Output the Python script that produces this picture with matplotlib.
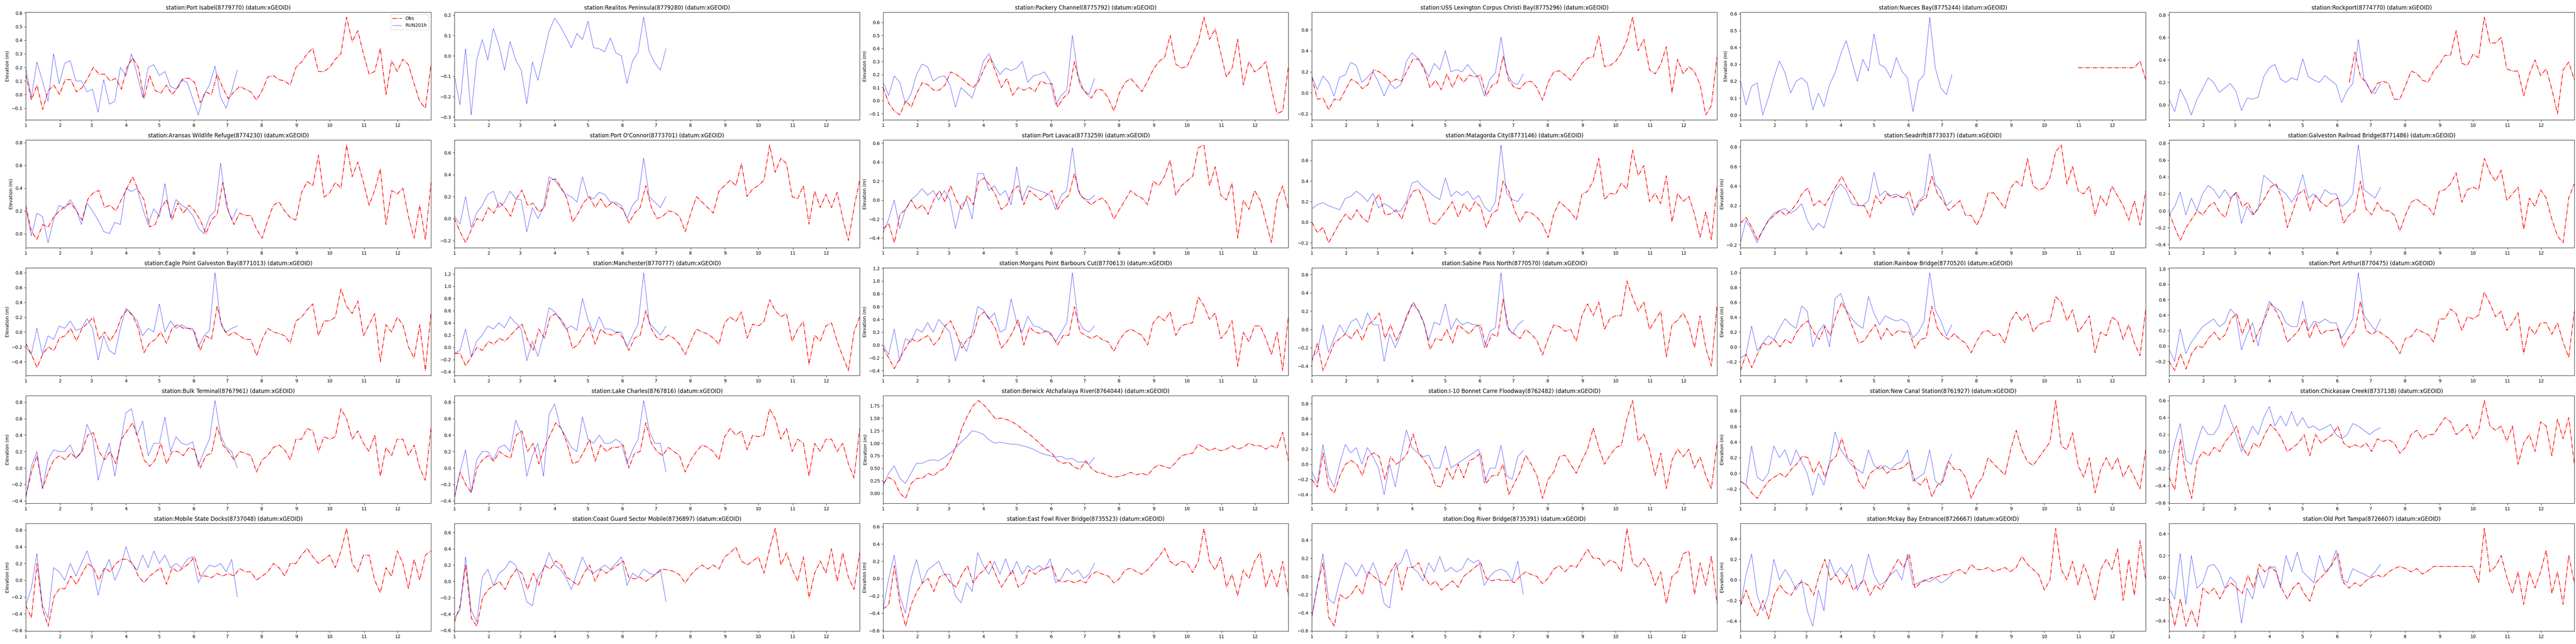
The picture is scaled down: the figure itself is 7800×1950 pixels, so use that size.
#!/usr/bin/env python3
"""
Water level comparison grid: observed (Obs) vs model run (RUN201h)
for 30 NOAA stations along the Gulf coast, one panel per station.
Values were read off the reference figure (Obs roughly every 5 days over
the year, RUN201h every 5 days from Jan 1 to mid July).
"""
import numpy as np
import matplotlib
matplotlib.use('Agg')
import matplotlib.pyplot as plt

NAN = np.nan

# ---- station titles -------------------------------------------------------
titles = [
    'station:Port Isabel(8779770) (datum:xGEOID)',
    'station:Realitos Peninsula(8779280) (datum:xGEOID)',
    'station:Packery Channel(8775792) (datum:xGEOID)',
    'station:USS Lexington Corpus Christi Bay(8775296) (datum:xGEOID)',
    'station:Nueces Bay(8775244) (datum:xGEOID)',
    'station:Rockport(8774770) (datum:xGEOID)',
    'station:Aransas Wildlife Refuge(8774230) (datum:xGEOID)',
    "station:Port O'Connor(8773701) (datum:xGEOID)",
    'station:Port Lavaca(8773259) (datum:xGEOID)',
    'station:Matagorda City(8773146) (datum:xGEOID)',
    'station:Seadrift(8773037) (datum:xGEOID)',
    'station:Galveston Railroad Bridge(8771486) (datum:xGEOID)',
    'station:Eagle Point Galveston Bay(8771013) (datum:xGEOID)',
    'station:Manchester(8770777) (datum:xGEOID)',
    'station:Morgans Point Barbours Cut(8770613) (datum:xGEOID)',
    'station:Sabine Pass North(8770570) (datum:xGEOID)',
    'station:Rainbow Bridge(8770520) (datum:xGEOID)',
    'station:Port Arthur(8770475) (datum:xGEOID)',
    'station:Bulk Terminal(8767961) (datum:xGEOID)',
    'station:Lake Charles(8767816) (datum:xGEOID)',
    'station:Berwick Atchafalaya River(8764044) (datum:xGEOID)',
    'station:I-10 Bonnet Carre Floodway(8762482) (datum:xGEOID)',
    'station:New Canal Station(8761927) (datum:xGEOID)',
    'station:Chickasaw Creek(8737138) (datum:xGEOID)',
    'station:Mobile State Docks(8737048) (datum:xGEOID)',
    'station:Coast Guard Sector Mobile(8736897) (datum:xGEOID)',
    'station:East Fowl River Bridge(8735523) (datum:xGEOID)',
    'station:Dog River Bridge(8735391) (datum:xGEOID)',
    'station:Mckay Bay Entrance(8726667) (datum:xGEOID)',
    'station:Old Port Tampa(8726607) (datum:xGEOID)',
]

# ---- month ticks (day of year of the 1st of each month) -------------------
month_starts = [0, 31, 59, 90, 120, 151, 181, 212, 243, 273, 304, 334]
month_labels = ['1', '2', '3', '4', '5', '6', '7', '8', '9', '10', '11', '12']

# ---- observed water level (m), Jan 1 .. Dec 31 ----------------------------
obs_port_isabel = [0.15, -0.04, 0.07, -0.11, 0.03, 0.07, 0.0, 0.11, 0.11, 0.02,
                   0.05, 0.12, 0.2, 0.15, 0.15, 0.1, 0.12, 0.04, 0.2, 0.27,
                   0.2, -0.03, 0.14, 0.03, 0.01, 0.07, 0.0, 0.05, 0.12, 0.12,
                   0.09, -0.06, 0.02, 0.0, 0.15, 0.05, -0.03, 0.02, 0.06, 0.04,
                   0.02, -0.04, 0.03, 0.13, 0.14, 0.11, 0.1, 0.07, 0.2, 0.24,
                   0.3, 0.34, 0.17, 0.17, 0.2, 0.26, 0.3, 0.57, 0.39, 0.47,
                   0.3, 0.15, 0.17, 0.34, 0.0, 0.25, 0.17, 0.26, 0.22, 0.08,
                   -0.05, -0.1, 0.22]
obs_realitos = []
obs_packery = [0.1, -0.02, -0.08, -0.11, 0.0, -0.05, 0.06, 0.14, 0.12, 0.08,
               0.08, 0.12, 0.22, 0.2, 0.17, 0.13, 0.1, 0.15, 0.25, 0.33,
               0.22, 0.1, 0.17, 0.04, 0.1, 0.08, 0.1, 0.07, 0.15, 0.13,
               0.13, -0.05, 0.02, 0.06, 0.3, 0.12, 0.06, 0.02, 0.09, 0.08,
               0.02, -0.08, 0.06, 0.14, 0.17, 0.12, 0.07, 0.15, 0.24, 0.3,
               0.33, 0.5, 0.28, 0.25, 0.26, 0.36, 0.45, 0.64, 0.47, 0.55,
               0.36, 0.18, 0.25, 0.47, 0.12, 0.3, 0.22, 0.25, 0.3, 0.09,
               -0.1, -0.08, 0.26]
obs_uss_lexington = [0.15, -0.06, -0.05, -0.16, -0.06, -0.07, 0.03, 0.13, 0.1, 0.04,
                     0.08, 0.22, 0.2, 0.16, 0.1, 0.13, 0.11, 0.22, 0.32, 0.32,
                     0.22, 0.05, 0.12, 0.03, 0.18, 0.05, 0.17, 0.1, 0.17, 0.15,
                     0.17, -0.03, 0.07, 0.1, 0.35, 0.12, 0.05, 0.04, 0.1, 0.11,
                     0.05, -0.07, 0.1, 0.2, 0.21, 0.17, 0.12, 0.2, 0.28, 0.33,
                     0.34, 0.54, 0.25, 0.26, 0.3, 0.38, 0.5, 0.72, 0.4, 0.51,
                     0.22, 0.18, 0.27, 0.44, 0.0, 0.32, 0.18, 0.25, 0.2, 0.08,
                     -0.21, -0.12, 0.34]
obs_nueces = [NAN] * 60 + [0.28, 0.28, 0.28, 0.28, 0.28, 0.28, 0.28, 0.28, 0.28,
                           0.28, 0.28, 0.32, 0.21]
obs_rockport = [NAN] * 32 + [0.2, 0.47, 0.25, 0.2, 0.1, 0.19, 0.21, 0.19, 0.05, 0.05,
                             0.17, 0.3, 0.28, 0.22, 0.2, 0.3, 0.36, 0.44, 0.44, 0.66,
                             0.37, 0.35, 0.45, 0.42, 0.78, 0.55, 0.55, 0.6, 0.32, 0.3,
                             0.3, 0.08, 0.27, 0.4, 0.26, 0.32, 0.14, -0.08, 0.31, 0.38,
                             0.22]
obs_aransas = [0.25, 0.02, -0.05, 0.08, 0.06, 0.15, 0.2,
               0.24, 0.27, 0.2, 0.12, 0.3,
               0.36, 0.38, 0.23, 0.25, 0.2, 0.3,
               0.4, 0.5, 0.38, 0.3, 0.06, 0.08,
               0.22, 0.3, 0.12, 0.27, 0.18, 0.25, 0.2,
               0.12, 0.0, 0.12, 0.17, 0.45, 0.2,
               0.08, 0.18, 0.16, 0.16, 0.04, -0.04,
               0.12, 0.25, 0.28, 0.2, 0.14, 0.12,
               0.36, 0.46, 0.42, 0.69, 0.32, 0.36,
               0.45, 0.4, 0.78, 0.5, 0.63, 0.45,
               0.25, 0.38, 0.57, 0.08, 0.38, 0.35,
               0.4, 0.15, -0.04, 0.25, -0.05, 0.45]
obs_port_oconnor = [0.0, -0.12, -0.22, -0.1, 0.0, -0.02, 0.1,
                    0.05, 0.15, 0.1, 0.02, 0.18,
                    0.26, 0.12, 0.14, 0.06, 0.1, 0.35,
                    0.36, 0.28, 0.18, -0.03, 0.05, 0.15,
                    0.2, 0.1, 0.18, 0.1, 0.15, 0.12, 0.08,
                    -0.04, 0.05, 0.1, 0.3, 0.1, 0.0,
                    0.02, 0.07, 0.06, 0.02, -0.12, 0.05,
                    0.2, 0.15, 0.1, 0.05, 0.25, 0.3,
                    0.35, 0.3, 0.5, 0.2, 0.27, 0.3,
                    0.35, 0.67, 0.42, 0.55, 0.5, 0.2,
                    0.18, 0.3, -0.05, 0.25, 0.1, 0.22,
                    0.1, 0.24, 0.0, -0.2, 0.1, 0.35]
obs_port_lavaca = [-0.3, -0.25, -0.45, -0.15, -0.1, 0.0, -0.1,
                   -0.05, -0.15, 0.0, 0.1, -0.02,
                   0.15, 0.0, -0.1, 0.05, -0.05, 0.2,
                   0.23, 0.15, 0.05, -0.1, -0.05, 0.1,
                   0.15, -0.05, 0.1, 0.05, 0.0, 0.05, 0.1,
                   -0.1, 0.0, 0.05, 0.28, 0.05, 0.0,
                   -0.05, 0.0, 0.02, -0.05, -0.2, -0.1,
                   0.0, 0.1, 0.05, 0.02, -0.05, 0.2,
                   0.15, 0.25, 0.42, 0.05, 0.15, 0.2,
                   0.25, 0.55, 0.58, 0.15, 0.35, 0.05,
                   0.0, 0.18, -0.4, 0.0, -0.1, 0.1,
                   0.0, -0.22, -0.45, 0.0, 0.15, -0.1]
obs_matagorda = [0.0, -0.1, -0.05, -0.2, -0.1, 0.0, 0.08,
                 0.02, 0.12, 0.04, 0.0, 0.2,
                 0.27, 0.07, 0.08, 0.12, 0.03, 0.2,
                 0.3, 0.32, 0.2, 0.0, -0.02, 0.05,
                 0.12, 0.2, 0.05, 0.18, 0.1, 0.2, 0.15,
                 -0.05, 0.08, 0.12, 0.4, 0.3, 0.12,
                 0.0, 0.1, 0.09, 0.05, -0.02, -0.15,
                 0.08, 0.2, 0.15, 0.1, 0.02, 0.27,
                 0.3, 0.4, 0.62, 0.22, 0.28, 0.27,
                 0.38, 0.32, 0.7, 0.45, 0.55, 0.2,
                 0.28, 0.18, 0.45, 0.0, 0.28, 0.2,
                 0.25, 0.08, -0.15, 0.1, -0.17, 0.35]
obs_seadrift = [0.02, 0.08, -0.02, -0.15, -0.05, 0.05, 0.1,
                0.15, 0.1, 0.15, 0.22, 0.33,
                0.38, 0.2, 0.25, 0.2, 0.3, 0.4,
                0.5, 0.38, 0.3, 0.2, 0.2, 0.08,
                0.3, 0.22, 0.32, 0.28, 0.3, 0.28, 0.35,
                0.15, 0.25, 0.28, 0.5, 0.32, 0.25,
                0.15, 0.2, 0.25, 0.1, 0.1, 0.0,
                0.12, 0.33, 0.33, 0.25, 0.17, 0.38,
                0.45, 0.4, 0.68, 0.4, 0.36, 0.38,
                0.48, 0.75, 0.82, 0.42, 0.6, 0.35,
                0.32, 0.4, 0.1, 0.3, 0.2, 0.4,
                0.3, 0.2, 0.05, 0.25, 0.0, 0.35]
obs_galveston_rr = [-0.02, -0.2, -0.35, -0.2, -0.1, 0.0, -0.05,
                    0.05, 0.1, -0.02, -0.08, 0.15,
                    0.22, 0.05, 0.1, -0.05, 0.05, 0.15,
                    0.28, 0.32, 0.15, -0.2, 0.0, 0.2,
                    0.25, 0.0, 0.18, 0.1, 0.05, 0.12, 0.15,
                    -0.15, -0.05, 0.0, 0.35, 0.02, -0.05,
                    0.1, 0.0, 0.0, -0.05, -0.24, -0.05,
                    0.1, 0.14, 0.08, 0.05, -0.05, 0.23,
                    0.25, 0.32, 0.45, 0.1, 0.25, 0.28,
                    0.25, 0.62, 0.45, 0.35, 0.48, 0.12,
                    0.2, 0.28, -0.22, 0.15, 0.05, 0.25,
                    0.15, -0.1, -0.3, -0.38, 0.15, 0.32]
obs_eagle_point = [-0.15, -0.3, -0.48, -0.3, -0.2, -0.25, -0.08,
                   -0.05, 0.05, -0.12, 0.05, 0.12,
                   0.2, -0.1, 0.0, -0.12, 0.0, 0.2,
                   0.3, 0.22, 0.05, -0.28, -0.15, -0.1,
                   0.0, -0.15, 0.05, 0.1, 0.05, 0.05, 0.0,
                   -0.25, -0.05, -0.1, 0.35, 0.05, -0.05,
                   0.0, -0.05, -0.1, -0.1, -0.32, -0.1,
                   0.05, 0.0, -0.02, -0.05, -0.15, 0.15,
                   0.2, 0.3, 0.38, -0.05, 0.15, 0.15,
                   0.2, 0.58, 0.35, 0.25, 0.42, -0.05,
                   0.1, 0.25, -0.4, 0.1, 0.0, 0.2,
                   0.1, -0.2, -0.35, 0.1, -0.52, 0.25]
obs_manchester = [-0.1, -0.1, -0.3, -0.15, 0.0, -0.05, 0.1,
                  0.05, 0.15, 0.1, 0.2, 0.3,
                  0.38, 0.12, -0.05, 0.3, 0.15, 0.5,
                  0.55, 0.45, 0.3, -0.02, 0.05, 0.2,
                  0.35, 0.05, 0.3, 0.22, 0.2, 0.25, 0.15,
                  -0.05, 0.15, 0.2, 0.6, 0.3, 0.15,
                  0.12, 0.2, 0.15, 0.05, -0.12, 0.1,
                  0.3, 0.25, 0.22, 0.15, 0.05, 0.4,
                  0.5, 0.42, 0.58, 0.15, 0.38, 0.35,
                  0.42, 0.78, 0.6, 0.5, 0.55, 0.1,
                  0.3, 0.42, -0.28, 0.2, 0.1, 0.35,
                  0.4, 0.1, -0.15, -0.38, 0.25, 0.5]
obs_morgans_point = [-0.05, -0.2, -0.37, -0.2, -0.05, 0.1, 0.05,
                     0.1, 0.15, 0.0, 0.1, 0.3,
                     0.38, 0.18, -0.05, 0.1, 0.15, 0.45,
                     0.52, 0.4, 0.25, -0.05, 0.05, 0.2,
                     0.4, 0.0, 0.28, 0.2, 0.18, 0.22, 0.15,
                     0.0, 0.15, 0.15, 0.6, 0.2, 0.15,
                     0.1, 0.15, 0.08, 0.05, -0.1, 0.08,
                     0.2, 0.25, 0.2, 0.15, 0.0, 0.35,
                     0.45, 0.38, 0.52, 0.15, 0.3, 0.33,
                     0.35, 0.75, 0.62, 0.4, 0.5, 0.1,
                     0.2, 0.38, -0.33, 0.2, 0.05, 0.3,
                     0.3, 0.1, -0.15, 0.2, -0.4, 0.45]
obs_sabine_pass = [-0.35, -0.15, -0.45, -0.3, -0.15, -0.1, -0.05,
                   -0.1, 0.0, -0.12, 0.05, 0.1,
                   0.18, -0.1, 0.05, -0.12, 0.0, 0.15,
                   0.3, 0.2, 0.05, -0.22, -0.1, -0.12,
                   0.0, -0.15, 0.05, 0.0, -0.05, 0.03, 0.05,
                   -0.2, -0.05, -0.08, 0.33, 0.0, -0.05,
                   -0.1, 0.0, -0.05, -0.12, -0.28, -0.1,
                   0.05, 0.03, -0.02, 0.0, -0.13, 0.15,
                   0.28, 0.15, 0.3, 0.0, 0.12, 0.15,
                   0.15, 0.53, 0.35, 0.2, 0.3, 0.0,
                   0.1, 0.2, -0.3, 0.05, 0.1, 0.18,
                   0.05, -0.2, 0.15, -0.2, -0.4, 0.25]
obs_rainbow = [-0.32, -0.1, -0.28, -0.1, 0.05, 0.02, 0.1,
               0.0, 0.1, 0.05, 0.2, 0.3,
               0.35, 0.2, 0.1, 0.28, 0.15, 0.42,
               0.6, 0.45, 0.25, 0.05, 0.08, 0.2,
               0.3, 0.1, 0.25, 0.15, 0.22, 0.2, 0.2,
               -0.02, 0.1, 0.12, 0.55, 0.25, 0.15,
               0.1, 0.18, 0.1, 0.05, -0.08, 0.08,
               0.2, 0.22, 0.15, 0.18, 0.05, 0.35,
               0.47, 0.35, 0.45, 0.2, 0.3, 0.33,
               0.35, 0.68, 0.6, 0.35, 0.5, 0.2,
               0.3, 0.42, -0.08, 0.2, 0.15, 0.4,
               0.35, 0.1, 0.3, 0.05, -0.12, 0.5]
obs_port_arthur = [-0.2, -0.32, -0.1, -0.3, -0.1, 0.0, -0.02,
                   0.1, 0.18, 0.08, 0.15, 0.35,
                   0.42, 0.15, 0.35, 0.05, 0.2, 0.35,
                   0.55, 0.45, 0.3, 0.05, 0.12, 0.2,
                   0.35, 0.1, 0.3, 0.15, 0.2, 0.2, 0.22,
                   -0.02, 0.12, 0.2, 0.58, 0.2, 0.15,
                   0.2, 0.15, 0.1, 0.02, -0.1, 0.1,
                   0.12, 0.22, 0.18, 0.15, 0.05, 0.35,
                   0.35, 0.48, 0.42, 0.2, 0.38, 0.35,
                   0.4, 0.7, 0.55, 0.38, 0.45, 0.2,
                   0.3, 0.43, -0.1, 0.25, 0.15, 0.3,
                   0.3, 0.15, 0.3, 0.05, -0.15, 0.45]
obs_bulk_terminal = [-0.35, -0.05, 0.15, -0.25, -0.05, 0.1, 0.15,
                     0.1, 0.18, 0.12, 0.2, 0.4,
                     0.43, 0.2, 0.1, 0.2, 0.05, 0.35,
                     0.45, 0.55, 0.35, 0.1, 0.02, 0.1,
                     0.3, 0.05, 0.2, 0.2, 0.15, 0.25, 0.22,
                     0.0, 0.15, 0.18, 0.5, 0.28, 0.2,
                     0.1, 0.2, 0.18, 0.15, -0.05, 0.1,
                     0.15, 0.25, 0.28, 0.22, 0.1, 0.35,
                     0.35, 0.48, 0.45, 0.2, 0.38, 0.35,
                     0.38, 0.72, 0.6, 0.35, 0.45, 0.3,
                     0.2, 0.4, -0.1, 0.25, 0.15, 0.35,
                     0.35, 0.15, 0.28, 0.0, -0.15, 0.48]
obs_lake_charles = [-0.35, -0.05, -0.2, -0.3, 0.0, 0.1, 0.15,
                    0.08, 0.2, 0.15, 0.12, 0.4,
                    0.45, 0.2, 0.3, 0.05, 0.25, 0.4,
                    0.55, 0.48, 0.3, 0.05, 0.08, 0.2,
                    0.35, 0.08, 0.28, 0.2, 0.25, 0.25, 0.28,
                    0.0, 0.18, 0.2, 0.55, 0.3, 0.2,
                    0.15, 0.25, 0.2, 0.15, -0.05, 0.1,
                    0.2, 0.28, 0.25, 0.2, 0.1, 0.38,
                    0.48, 0.4, 0.45, 0.22, 0.4, 0.38,
                    0.4, 0.72, 0.6, 0.35, 0.48, 0.2,
                    0.35, 0.3, -0.1, 0.3, 0.2, 0.35,
                    0.35, 0.2, 0.3, 0.05, -0.12, 0.48]
obs_berwick = [0.2, 0.32, 0.25, 0.0, -0.1, 0.2, 0.3,
               0.3, 0.4, 0.35, 0.45, 0.5,
               0.68, 0.95, 1.3, 1.55, 1.75, 1.85,
               1.75, 1.62, 1.48, 1.5, 1.47, 1.42,
               1.35, 1.25, 1.18, 1.08, 0.98, 0.88, 0.8,
               0.65, 0.6, 0.62, 0.52, 0.48, 0.65,
               0.5, 0.42, 0.4, 0.35, 0.32, 0.34,
               0.37, 0.42, 0.37, 0.4, 0.36, 0.5,
               0.57, 0.53, 0.5, 0.62, 0.75, 0.78,
               0.8, 0.98, 0.92, 0.85, 0.9, 0.85,
               0.88, 0.95, 0.88, 0.92, 1.0, 0.95,
               0.95, 0.88, 0.95, 0.9, 1.22, 0.65]
obs_bonnet_carre = [-0.2, -0.3, 0.15, -0.3, -0.38, -0.15, 0.0,
                    0.05, 0.0, -0.15, 0.1, 0.15,
                    0.1, -0.2, 0.1, 0.0, 0.05, 0.15,
                    0.4, 0.15, 0.05, -0.05, -0.28, -0.3,
                    -0.05, -0.2, 0.0, -0.18, 0.05, 0.08, 0.15,
                    -0.25, -0.15, -0.15, 0.0, -0.4, -0.25,
                    -0.1, 0.12, 0.0, -0.15, -0.45, -0.2,
                    -0.1, 0.1, 0.12, 0.0, -0.12, 0.05,
                    0.2, 0.48, 0.22, 0.0, 0.12, 0.22,
                    0.25, 0.6, 0.84, 0.3, 0.4, 0.2,
                    -0.15, 0.15, -0.32, 0.05, 0.2, 0.1,
                    0.2, -0.05, 0.1, -0.15, -0.32, 0.28]
obs_new_canal = [-0.1, -0.15, -0.25, -0.32, -0.2, -0.1, -0.05,
                 0.0, -0.05, 0.05, 0.12, 0.22,
                 0.2, 0.0, 0.15, -0.05, 0.15, 0.22,
                 0.45, 0.2, 0.15, -0.1, -0.2, 0.0,
                 0.05, 0.1, 0.0, 0.05, 0.05, 0.08, 0.15,
                 -0.1, -0.15, -0.05, -0.3, -0.15, -0.1,
                 0.15, 0.05, 0.05, -0.05, -0.32, -0.15,
                 -0.05, 0.2, 0.12, 0.05, -0.02, 0.3,
                 0.55, 0.3, 0.15, 0.1, 0.2, 0.3,
                 0.4, 0.93, 0.35, 0.3, 0.52, 0.1,
                 -0.05, 0.2, -0.25, 0.05, 0.2, 0.05,
                 0.2, -0.05, 0.1, -0.05, -0.2, 0.3]
obs_chickasaw = [-0.3, -0.45, 0.15, -0.3, -0.55, -0.1, 0.0,
                 -0.05, 0.05, 0.0, 0.12, 0.2,
                 0.3, 0.05, -0.05, 0.1, 0.05, 0.2,
                 0.32, 0.25, 0.15, 0.0, 0.05, 0.1,
                 0.2, -0.05, 0.2, 0.1, 0.15, 0.2, 0.3,
                 0.1, 0.05, 0.08, 0.05, 0.1, 0.0,
                 0.15, 0.12, 0.14, 0.1, -0.02, 0.05,
                 0.2, 0.25, 0.15, 0.2, 0.2, 0.3,
                 0.4, 0.35, 0.2, 0.25, 0.32, 0.15,
                 0.25, 0.6, 0.3, 0.25, 0.3, 0.12,
                 0.3, -0.15, 0.1, 0.2, 0.0, 0.35,
                 0.3, -0.05, 0.38, 0.15, 0.4, -0.15]
obs_mobile_docks = [-0.3, -0.45, 0.2, -0.35, -0.55, -0.2, -0.1,
                    -0.1, 0.05, -0.05, 0.08, 0.2,
                    0.15, 0.0, 0.15, 0.1, 0.2, 0.25,
                    0.25, 0.2, 0.05, -0.03, 0.05, 0.1,
                    0.15, -0.05, 0.15, 0.1, 0.15, 0.2, 0.28,
                    0.05, 0.05, 0.03, 0.08, 0.05, 0.08,
                    0.05, 0.14, 0.1, 0.1, 0.0, 0.05,
                    0.1, 0.2, 0.15, 0.05, 0.2, 0.2,
                    0.3, 0.38, 0.28, 0.2, 0.25, 0.3,
                    0.15, 0.35, 0.62, 0.2, 0.1, 0.3,
                    0.3, 0.0, -0.15, 0.15, 0.05, 0.35,
                    0.2, -0.1, 0.25, 0.0, 0.3, 0.35]
obs_coast_guard = [-0.5, -0.3, 0.2, -0.45, -0.55, -0.2, -0.1,
                   -0.05, 0.0, -0.1, 0.05, 0.15,
                   0.1, -0.1, 0.1, -0.05, 0.2, 0.15,
                   0.25, 0.2, 0.05, 0.0, -0.05, 0.1,
                   0.2, 0.0, 0.15, 0.1, 0.15, 0.2, 0.25,
                   0.05, 0.03, 0.05, 0.0, 0.05, 0.1,
                   0.15, 0.14, 0.12, 0.08, -0.02, 0.08,
                   0.15, 0.2, 0.15, 0.2, 0.15, 0.3,
                   0.35, 0.42, 0.25, 0.2, 0.25, 0.3,
                   0.1, 0.4, 0.65, 0.2, 0.35, 0.15,
                   0.0, 0.3, -0.2, 0.1, 0.25, 0.1,
                   0.4, 0.0, 0.35, 0.05, -0.1, 0.35]
obs_east_fowl = [-0.35, -0.3, 0.15, -0.3, -0.55, -0.3, -0.15,
                 -0.05, 0.0, -0.15, 0.02, 0.05,
                 -0.05, -0.1, 0.05, 0.15, -0.05, 0.05,
                 0.1, 0.2, 0.05, -0.1, 0.0, 0.1,
                 -0.1, -0.05, 0.1, 0.05, 0.1, 0.12, 0.15,
                 -0.02, -0.04, -0.02, -0.05, -0.02, -0.05,
                 0.05, 0.08, 0.05, 0.03, -0.05, 0.0,
                 0.1, 0.12, 0.08, 0.05, 0.1, 0.18,
                 0.25, 0.35, 0.2, 0.15, 0.2, 0.18,
                 0.07, 0.2, 0.58, 0.2, 0.1, 0.25,
                 -0.1, 0.05, -0.2, 0.1, 0.0, 0.2,
                 0.3, -0.1, 0.1, -0.1, 0.2, -0.2]
obs_dog_river = [-0.45, -0.1, 0.15, -0.45, -0.55, -0.2, -0.25,
                 -0.2, -0.1, -0.2, 0.05, 0.0,
                 -0.05, -0.1, 0.05, 0.15, -0.15, 0.1,
                 0.1, 0.15, 0.0, -0.1, -0.05, -0.15,
                 -0.1, -0.05, -0.12, 0.0, 0.05, 0.1, 0.15,
                 -0.02, -0.05, -0.03, -0.05, -0.04, -0.07,
                 0.0, 0.05, 0.02, 0.0, -0.08, -0.02,
                 0.08, 0.12, 0.05, 0.12, 0.1, 0.2,
                 0.3, 0.2, 0.2, 0.12, 0.18, 0.15,
                 0.05, 0.53, 0.15, 0.1, 0.2, 0.1,
                 -0.1, 0.05, -0.3, 0.0, 0.05, 0.25,
                 0.28, -0.2, 0.15, -0.1, 0.22, -0.3]
obs_mckay_bay = [-0.25, -0.1, -0.25, -0.35, -0.2, -0.38, -0.15,
                 -0.05, -0.12, -0.15, -0.05, -0.02,
                 -0.05, -0.15, 0.05, 0.2, 0.0, 0.05,
                 -0.05, 0.05, -0.1, -0.05, 0.0, -0.15,
                 -0.05, -0.1, 0.0, 0.1, 0.2, 0.12, 0.25,
                 -0.08, -0.03, 0.0, 0.02, 0.03, 0.05,
                 0.05, 0.08, 0.1, 0.06, 0.15, 0.1,
                 0.1, 0.12, 0.08, 0.1, 0.12, 0.08,
                 0.12, 0.23, 0.15, 0.1, 0.05, -0.1,
                 0.0, 0.5, 0.1, 0.0, 0.18, -0.05,
                 0.15, 0.0, -0.2, 0.1, 0.2, 0.1,
                 0.3, -0.2, 0.2, -0.15, 0.38, 0.0]
obs_old_port_tampa = [-0.2, -0.45, -0.2, -0.45, -0.3, -0.45, -0.1,
                      -0.15, -0.1, -0.2, -0.1, -0.05,
                      -0.1, -0.15, 0.02, -0.1, 0.12, 0.05,
                      0.1, 0.05, -0.1, -0.2, -0.1, -0.05,
                      -0.15, -0.22, -0.05, 0.0, 0.05, 0.12, 0.22,
                      -0.05, -0.1, -0.05, -0.08, -0.03, 0.0,
                      0.02, 0.0, 0.05, 0.08, 0.1, 0.08,
                      0.05, 0.08, 0.03, 0.06, 0.1, 0.1,
                      0.1, 0.1, 0.1, 0.1, 0.1, 0.1,
                      -0.05, 0.45, 0.05, 0.1, 0.2, 0.0,
                      -0.15, 0.05, -0.25, 0.05, -0.1, 0.05,
                      0.25, -0.15, 0.05, -0.25, 0.2, -0.05]

# ---- model run RUN201h (m), every 5 days from Jan 1 -----------------------
run_port_isabel = [0.2, -0.02, 0.24, 0.1, -0.05, 0.3, 0.08, 0.23, 0.25, 0.1,
                   0.1, 0.02, 0.04, -0.13, 0.11, -0.07, -0.05, 0.2, 0.14, 0.3,
                   0.15, -0.02, 0.2, 0.22, 0.14, 0.17, 0.06, 0.04, 0.11, 0.09,
                   -0.03, -0.15, 0.0, 0.07, 0.21, -0.02, -0.1, 0.03, 0.18]
run_realitos = [-0.1, -0.24, 0.035, -0.29, -0.02, 0.08, -0.02, 0.135, 0.05, -0.07,
                0.07, -0.02, -0.07, -0.235, -0.03, -0.12, 0.0, 0.12, 0.185, 0.145,
                0.095, 0.04, 0.11, 0.08, 0.17, 0.04, 0.035, 0.02, 0.088, 0.015,
                0.0, -0.135, -0.025, 0.018, 0.19, 0.02, -0.035, -0.07, 0.035]
run_packery = [0.14, 0.04, 0.19, 0.14, -0.02, 0.05, 0.2, 0.28, 0.26, 0.15,
               0.18, 0.19, 0.12, -0.05, 0.1, 0.06, 0.02, 0.15, 0.3, 0.36,
               0.27, 0.2, 0.25, 0.23, 0.25, 0.3, 0.14, 0.19, 0.2, 0.22,
               0.15, -0.03, 0.04, 0.08, 0.5, 0.2, 0.08, 0.05, 0.17]
run_uss_lexington = [0.16, 0.03, 0.16, 0.1, -0.03, 0.15, 0.17, 0.29, 0.26, 0.1,
                     0.15, 0.2, 0.1, -0.03, 0.09, 0.04, 0.08, 0.3, 0.38, 0.33,
                     0.26, 0.15, 0.28, 0.22, 0.4, 0.2, 0.22, 0.2, 0.27, 0.2,
                     0.14, -0.03, 0.13, 0.19, 0.53, 0.2, 0.1, 0.08, 0.18]
run_nueces = [0.2, 0.06, 0.17, 0.19, 0.0, 0.1, 0.22, 0.32, 0.25, 0.13,
              0.2, 0.22, 0.19, 0.03, 0.13, 0.05, 0.18, 0.25, 0.36, 0.44,
              0.32, 0.2, 0.33, 0.26, 0.48, 0.3, 0.28, 0.22, 0.34, 0.26,
              0.22, 0.02, 0.2, 0.24, 0.58, 0.28, 0.16, 0.12, 0.24]
run_rockport = [0.05, -0.06, 0.14, 0.04, -0.09, 0.05, 0.14, 0.24, 0.2, 0.11,
                0.15, 0.19, 0.12, -0.05, 0.06, 0.05, 0.07, 0.25, 0.33, 0.36,
                0.23, 0.2, 0.24, 0.22, 0.41, 0.25, 0.22, 0.2, 0.26, 0.22,
                0.18, 0.02, 0.13, 0.19, 0.58, 0.23, 0.14, 0.1, 0.19]
run_aransas = [0.22, -0.02, 0.18, 0.15, -0.08, 0.12, 0.25,
               0.22, 0.3, 0.22, 0.08, 0.27,
               0.2, 0.12, 0.02, 0.0, 0.1, 0.08,
               0.4, 0.37, 0.4, 0.22, 0.08, 0.22,
               0.15, 0.44, 0.14, 0.3, 0.25, 0.22, 0.16,
               0.05, 0.0, 0.15, 0.2, 0.62, 0.25,
               0.12, 0.22]
run_port_oconnor = [0.02, -0.05, 0.2, -0.08, 0.05, 0.12, 0.22,
                    0.25, 0.1, 0.15, 0.25, 0.18,
                    0.17, -0.12, 0.1, 0.0, 0.1, 0.38,
                    0.35, 0.28, 0.22, 0.2, 0.15, 0.38,
                    0.2, 0.18, 0.24, 0.22, 0.15, 0.15, 0.12,
                    0.0, 0.12, 0.18, 0.55, 0.2, 0.15,
                    0.1, 0.2]
run_port_lavaca = [-0.35, -0.2, 0.0, -0.3, -0.1, 0.0, 0.05,
                   0.12, 0.05, 0.1, 0.0, 0.1,
                   0.0, -0.3, -0.05, 0.0, -0.2, 0.28,
                   0.28, 0.1, 0.15, 0.05, 0.1, -0.05,
                   0.35, 0.0, 0.15, 0.12, 0.1, 0.08, 0.05,
                   -0.1, 0.05, 0.1, 0.55, 0.1, 0.02,
                   0.0, 0.05]
run_matagorda = [0.13, 0.17, 0.19, 0.16, 0.14, 0.12, 0.23,
                 0.25, 0.3, 0.26, 0.2, 0.28,
                 0.14, 0.18, 0.15, 0.1, 0.11, 0.2,
                 0.38, 0.4, 0.34, 0.3, 0.25, 0.22,
                 0.43, 0.25, 0.3, 0.26, 0.3, 0.22, 0.26,
                 0.15, 0.1, 0.2, 0.75, 0.28, 0.22,
                 0.2, 0.28]
run_seadrift = [-0.18, 0.05, -0.05, -0.18, -0.05, 0.05, 0.12,
                0.15, 0.17, 0.12, 0.16, 0.22,
                0.05, -0.05, 0.02, -0.03, 0.15, 0.35,
                0.42, 0.36, 0.22, 0.2, 0.2, 0.25,
                0.54, 0.3, 0.35, 0.3, 0.32, 0.28, 0.28,
                0.1, 0.25, 0.3, 0.73, 0.42, 0.35,
                0.2, 0.25]
run_galveston_rr = [-0.05, 0.05, 0.22, -0.05, 0.15, 0.0, 0.2,
                    0.3, 0.25, 0.15, 0.25, 0.15,
                    0.22, -0.15, 0.05, -0.05, 0.02, 0.42,
                    0.36, 0.3, 0.25, 0.2, 0.1, 0.2,
                    0.43, 0.15, 0.2, 0.12, 0.25, 0.2, 0.2,
                    0.05, 0.1, 0.2, 0.78, 0.25, 0.2,
                    0.15, 0.28]
run_eagle_point = [-0.2, -0.3, 0.05, -0.3, -0.05, -0.1, 0.08,
                   0.05, 0.15, 0.02, 0.05, 0.18,
                   0.05, -0.38, -0.05, -0.25, -0.3, 0.05,
                   0.32, 0.25, 0.15, -0.05, 0.05, 0.0,
                   0.38, 0.0, 0.15, 0.05, 0.1, 0.05, 0.05,
                   -0.2, -0.05, 0.02, 0.8, 0.12, 0.0,
                   0.05, 0.08]
run_manchester = [-0.1, -0.05, 0.3, -0.15, 0.1, 0.2, 0.35,
                  0.3, 0.4, 0.32, 0.5, 0.4,
                  0.3, -0.22, 0.1, -0.15, 0.2, 0.65,
                  0.58, 0.45, 0.3, 0.35, 0.28, 0.8,
                  0.45, 0.25, 0.5, 0.3, 0.3, 0.25, 0.25,
                  0.0, 0.2, 0.38, 1.22, 0.4, 0.3,
                  0.2, 0.35]
run_morgans_point = [0.0, -0.15, 0.25, -0.25, 0.1, 0.05, 0.25,
                     0.2, 0.35, 0.2, 0.4, 0.3,
                     0.2, -0.25, 0.05, -0.1, 0.2, 0.6,
                     0.55, 0.4, 0.5, 0.2, 0.25, 0.72,
                     0.35, 0.2, 0.45, 0.3, 0.28, 0.22, 0.2,
                     0.05, 0.2, 0.35, 1.13, 0.4, 0.25,
                     0.2, 0.3]
run_sabine_pass = [-0.3, -0.25, 0.05, -0.25, -0.1, 0.05, -0.05,
                   0.08, 0.12, 0.0, 0.18, 0.05,
                   0.05, -0.35, -0.05, -0.2, -0.05, 0.15,
                   0.27, 0.22, 0.1, -0.12, 0.08, 0.05,
                   0.28, 0.0, 0.12, 0.05, 0.08, 0.05, 0.05,
                   -0.2, -0.02, 0.02, 0.62, 0.05, -0.05,
                   0.05, 0.1]
run_rainbow = [-0.15, -0.1, 0.28, -0.05, 0.05, 0.15, 0.1,
               0.25, 0.38, 0.3, 0.25, 0.55,
               0.48, 0.0, 0.2, 0.3, 0.0, 0.65,
               0.72, 0.5, 0.38, 0.3, 0.25, 0.68,
               0.45, 0.3, 0.42, 0.38, 0.35, 0.37, 0.32,
               0.12, 0.2, 0.35, 1.0, 0.5, 0.35,
               0.15, 0.3]
run_port_arthur = [-0.05, -0.2, 0.22, -0.1, 0.05, 0.15, 0.25,
                   0.3, 0.35, 0.25, 0.3, 0.48,
                   0.4, -0.05, 0.15, 0.3, 0.0, 0.35,
                   0.58, 0.5, 0.45, 0.3, 0.25, 0.25,
                   0.58, 0.2, 0.32, 0.3, 0.35, 0.3, 0.3,
                   0.1, 0.22, 0.35, 0.95, 0.4, 0.3,
                   0.2, 0.35]
run_bulk_terminal = [-0.37, 0.02, 0.2, -0.25, 0.1, 0.22, 0.2,
                     0.2, 0.28, 0.12, 0.2, 0.53,
                     0.38, -0.15, 0.1, 0.3, -0.1, 0.3,
                     0.67, 0.72, 0.4, 0.57, 0.15, 0.3,
                     0.3, 0.62, 0.2, 0.38, 0.3, 0.28, 0.32,
                     0.02, 0.2, 0.35, 0.82, 0.4, 0.25,
                     0.2, 0.0]
run_lake_charles = [-0.37, -0.05, 0.22, -0.3, 0.1, 0.2, 0.2,
                    0.1, 0.25, 0.28, 0.2, 0.58,
                    0.42, -0.1, 0.15, 0.3, -0.1, 0.65,
                    0.78, 0.5, 0.38, 0.25, 0.2, 0.62,
                    0.35, 0.3, 0.4, 0.3, 0.3, 0.35, 0.3,
                    0.05, 0.22, 0.35, 0.82, 0.45, 0.3,
                    0.3, -0.05]
run_berwick = [0.15, 0.4, 0.55, 0.3, 0.2, 0.4, 0.6,
               0.6, 0.65, 0.67, 0.65, 0.72,
               0.8, 0.9, 1.02, 1.12, 1.25, 1.22,
               1.18, 1.07, 1.0, 1.02, 1.0, 0.98,
               0.98, 0.95, 0.92, 0.88, 0.82, 0.78, 0.75,
               0.72, 0.74, 0.68, 0.7, 0.62, 0.63,
               0.58, 0.72]
run_bonnet_carre = [-0.1, -0.25, 0.26, -0.15, -0.3, 0.0, 0.26,
                    0.15, 0.22, 0.0, 0.22, 0.1,
                    -0.05, -0.4, 0.0, -0.3, 0.1, 0.45,
                    0.22, 0.15, 0.1, 0.12, -0.05, -0.05,
                    0.24, -0.05, 0.0, 0.05, 0.1, 0.15, 0.2,
                    -0.25, -0.05, -0.05, 0.25, -0.15, -0.2,
                    0.1, 0.18]
run_new_canal = [-0.1, -0.15, 0.35, -0.05, -0.1, 0.0, 0.35,
                 0.2, 0.3, 0.1, 0.3, 0.15,
                 0.0, -0.28, 0.0, -0.15, 0.15, 0.53,
                 0.3, 0.2, 0.1, 0.05, 0.0, 0.3,
                 0.1, 0.05, 0.1, 0.05, 0.12, 0.15, 0.3,
                 -0.1, -0.05, 0.0, 0.3, -0.1, -0.15,
                 0.1, 0.25]
run_chickasaw = [-0.2, 0.1, 0.33, -0.1, -0.15, 0.1, 0.3,
                 0.2, 0.2, 0.3, 0.55, 0.38,
                 0.2, 0.0, 0.15, 0.3, 0.2, 0.4,
                 0.53, 0.3, 0.42, 0.3, 0.47, 0.3,
                 0.4, 0.28, 0.3, 0.25, 0.28, 0.32, 0.2,
                 0.15, 0.2, 0.33, 0.3, 0.25, 0.2,
                 0.25, 0.28]
run_mobile_docks = [-0.3, -0.1, 0.32, -0.3, -0.45, 0.15, 0.1,
                    0.0, 0.2, 0.05, 0.2, 0.35,
                    0.15, -0.18, 0.1, 0.25, 0.0, 0.15,
                    0.4, 0.2, 0.12, 0.3, 0.15, 0.35,
                    0.2, 0.3, 0.15, 0.2, 0.15, 0.25, 0.28,
                    -0.03, 0.1, 0.18, 0.16, 0.2, 0.1,
                    0.25, -0.2]
run_coast_guard = [-0.45, -0.35, 0.3, -0.35, -0.5, 0.05, 0.15,
                   -0.05, 0.1, 0.15, 0.25, 0.2,
                   0.0, -0.25, -0.3, 0.05, 0.15, 0.35,
                   0.2, 0.15, 0.05, -0.1, 0.1, 0.3,
                   0.15, 0.1, 0.15, 0.2, 0.15, 0.22, 0.3,
                   -0.05, 0.1, 0.05, 0.15, 0.1, 0.08,
                   0.15, -0.25]
run_east_fowl = [-0.35, 0.0, 0.27, -0.2, -0.4, 0.0, 0.22,
                 -0.05, 0.1, 0.15, 0.2, 0.05,
                 0.05, -0.2, -0.28, -0.05, -0.15, 0.3,
                 0.15, 0.05, 0.2, 0.05, 0.23, 0.05,
                 0.2, 0.05, 0.15, 0.1, 0.15, 0.1, 0.23,
                 -0.05, 0.0, 0.12, 0.05, 0.1, 0.0,
                 0.05, 0.18]
run_dog_river = [-0.45, -0.1, 0.25, -0.25, -0.3, -0.05, 0.15,
                 0.1, 0.0, 0.13, 0.0, 0.15,
                 0.0, -0.3, -0.35, 0.1, 0.15, 0.3,
                 0.1, 0.05, -0.05, 0.15, 0.05, 0.22,
                 0.05, 0.1, 0.05, 0.08, 0.2, 0.15, 0.18,
                 -0.1, 0.0, 0.06, 0.08, 0.05, -0.05,
                 0.17, -0.2]
run_mckay_bay = [-0.25, 0.05, 0.25, -0.15, -0.3, -0.15, 0.2,
                 0.0, 0.1, 0.02, -0.1, 0.0,
                 -0.3, -0.45, -0.1, -0.3, 0.2, 0.05,
                 0.12, 0.05, 0.15, -0.1, 0.0, 0.25,
                 0.05, -0.05, -0.02, 0.05, 0.1, 0.0, 0.25,
                 -0.05, -0.03, 0.0, -0.02, 0.02, -0.03,
                 0.0, 0.05]
run_old_port_tampa = [-0.1, -0.2, 0.22, -0.25, 0.2, -0.1, -0.05,
                      0.1, 0.12, 0.05, -0.1, 0.0,
                      -0.05, -0.42, -0.1, -0.2, 0.05, -0.1,
                      0.08, 0.1, -0.1, 0.2, 0.05, 0.23,
                      0.05, 0.0, -0.05, 0.2, 0.05, 0.1, 0.25,
                      -0.02, -0.05, 0.08, 0.05, 0.03, 0.0,
                      0.05, 0.12]

obs_series = [obs_port_isabel, obs_realitos, obs_packery, obs_uss_lexington,
              obs_nueces, obs_rockport, obs_aransas, obs_port_oconnor,
              obs_port_lavaca, obs_matagorda, obs_seadrift, obs_galveston_rr,
              obs_eagle_point, obs_manchester, obs_morgans_point, obs_sabine_pass,
              obs_rainbow, obs_port_arthur, obs_bulk_terminal, obs_lake_charles,
              obs_berwick, obs_bonnet_carre, obs_new_canal, obs_chickasaw,
              obs_mobile_docks, obs_coast_guard, obs_east_fowl, obs_dog_river,
              obs_mckay_bay, obs_old_port_tampa]
run_series = [run_port_isabel, run_realitos, run_packery, run_uss_lexington,
              run_nueces, run_rockport, run_aransas, run_port_oconnor,
              run_port_lavaca, run_matagorda, run_seadrift, run_galveston_rr,
              run_eagle_point, run_manchester, run_morgans_point, run_sabine_pass,
              run_rainbow, run_port_arthur, run_bulk_terminal, run_lake_charles,
              run_berwick, run_bonnet_carre, run_new_canal, run_chickasaw,
              run_mobile_docks, run_coast_guard, run_east_fowl, run_dog_river,
              run_mckay_bay, run_old_port_tampa]


def main():
    W, H = 7800, 1950
    fig = plt.figure(figsize=(W / 100, H / 100), dpi=100)

    # panel geometry in pixels (6 columns x 5 rows)
    ax_w, ax_h = 1227, 326
    col_step, row_step = 1298, 387
    left0, top0 = 78, 37

    for k, title in enumerate(titles):
        r, c = divmod(k, 6)
        left = (left0 + c * col_step) / W
        bottom = 1 - (top0 + r * row_step + ax_h) / H
        ax = fig.add_axes([left, bottom, ax_w / W, ax_h / H])

        obs = np.array(obs_series[k], dtype=float)
        run = np.array(run_series[k], dtype=float)
        if len(obs):
            obs_days = np.linspace(0, 364, len(obs))
            ax.plot(obs_days, obs, color='red', ls='-.', lw=1.5, label='Obs')
        else:
            ax.plot([], [], color='red', ls='-.', lw=1.5, label='Obs')
        run_days = np.arange(len(run)) * 5.0
        ax.plot(run_days, run, color='blue', lw=0.6, label='RUN201h')

        ax.set_xlim(0, 364)
        ax.set_xticks(month_starts)
        ax.set_xticklabels(month_labels)
        ax.set_title(title)
        if c % 2 == 0:
            ax.set_ylabel('Elevation (m)')
        if k == 0:
            ax.legend(loc='upper right')

    fig.savefig('out.png', dpi=100)


if __name__ == '__main__':
    main()
